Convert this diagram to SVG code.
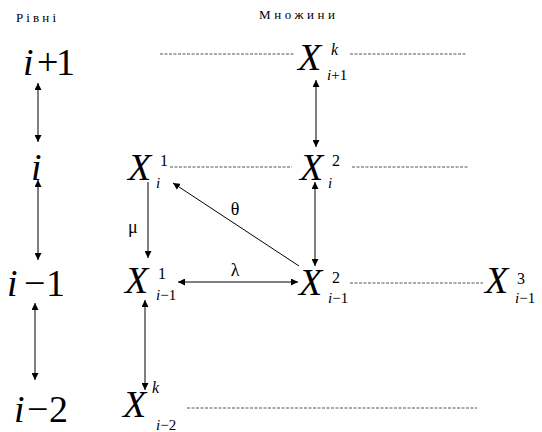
<svg xmlns="http://www.w3.org/2000/svg" width="542" height="432" viewBox="0 0 542 432">
<defs>
<marker id="ah" viewBox="0 0 10 10" refX="10" refY="5" markerWidth="7" markerHeight="7" markerUnits="userSpaceOnUse" orient="auto-start-reverse">
<path d="M0,0 L10,5 L0,10 z" fill="#000"/>
</marker>
</defs>
<rect width="542" height="432" fill="#fff"/>
<g id="headers" font-family="Liberation Serif" font-size="13" fill="#000">
<text x="16" y="22" font-family="Liberation Serif" textLength="40">Рівні</text>
<text x="259" y="19" font-family="Liberation Serif" textLength="76">Множини</text>
</g>
<g id="levels" font-family="Liberation Serif" font-size="38" fill="#000">
<g id="lvl-i1"><text y="75" font-family="Liberation Serif"><tspan font-style="italic" x="23">i</tspan><tspan x="37">+</tspan><tspan x="56">1</tspan></text></g>
<g id="lvl-i"><text x="31" y="180" font-family="Liberation Serif" font-style="italic">i</text></g>
<g id="lvl-im1"><text y="296" font-family="Liberation Serif"><tspan font-style="italic" x="7">i</tspan><tspan x="24">−</tspan><tspan x="46">1</tspan></text></g>
<g id="lvl-im2"><text y="422" font-family="Liberation Serif"><tspan font-style="italic" x="14">i</tspan><tspan x="27">−</tspan><tspan x="49">2</tspan></text></g>
</g>
<g id="dashes" stroke="#555" stroke-width="1" stroke-dasharray="3 1.5" fill="none">
<line x1="160" y1="54" x2="295" y2="54"/>
<line x1="350" y1="54" x2="467" y2="54"/>
<line x1="170" y1="167" x2="292" y2="167"/>
<line x1="352" y1="167" x2="468" y2="167"/>
<line x1="350" y1="283" x2="483" y2="283"/>
<line x1="187" y1="408" x2="477" y2="408"/>
</g>
<g id="nodes" font-family="Liberation Serif" fill="#000">
<g id="X_ip1_k"><text x="298" y="70" font-family="Liberation Serif" font-size="38" font-style="italic">X</text><text x="331" y="55" font-family="Liberation Serif" font-size="16" font-style="italic">k</text><text y="80" font-family="Liberation Serif" font-size="15"><tspan font-style="italic" x="327">i</tspan><tspan>+1</tspan></text></g>
<g id="X_i_1"><text x="128" y="180" font-family="Liberation Serif" font-size="38" font-style="italic">X</text><text x="160" y="166" font-family="Liberation Serif" font-size="16">1</text><text x="156" y="188" font-family="Liberation Serif" font-size="15" font-style="italic">i</text></g>
<g id="X_i_2"><text x="300" y="180" font-family="Liberation Serif" font-size="38" font-style="italic">X</text><text x="332" y="166" font-family="Liberation Serif" font-size="16">2</text><text x="328" y="188" font-family="Liberation Serif" font-size="15" font-style="italic">i</text></g>
<g id="X_im1_1"><text x="125" y="293" font-family="Liberation Serif" font-size="38" font-style="italic">X</text><text x="158" y="279" font-family="Liberation Serif" font-size="16">1</text><text y="300" font-family="Liberation Serif" font-size="15"><tspan font-style="italic" x="156">i</tspan><tspan>−1</tspan></text></g>
<g id="X_im1_2"><text x="299" y="295" font-family="Liberation Serif" font-size="38" font-style="italic">X</text><text x="332" y="283" font-family="Liberation Serif" font-size="16">2</text><text y="303" font-family="Liberation Serif" font-size="15"><tspan font-style="italic" x="328">i</tspan><tspan>−1</tspan></text></g>
<g id="X_im1_3"><text x="485" y="293" font-family="Liberation Serif" font-size="38" font-style="italic">X</text><text x="517" y="284" font-family="Liberation Serif" font-size="16">3</text><text y="303" font-family="Liberation Serif" font-size="15"><tspan font-style="italic" x="515">i</tspan><tspan>−1</tspan></text></g>
<g id="X_im2_k"><text x="123" y="417" font-family="Liberation Serif" font-size="38" font-style="italic">X</text><text x="152" y="393" font-family="Liberation Serif" font-size="16" font-style="italic">k</text><text y="430" font-family="Liberation Serif" font-size="15"><tspan font-style="italic" x="156">i</tspan><tspan>−2</tspan></text></g>
</g>
<g id="connectors" stroke="#000" stroke-width="1" fill="none">
<line x1="38" y1="83" x2="38" y2="142" marker-start="url(#ah)" marker-end="url(#ah)"/>
<line x1="38" y1="180" x2="38" y2="260" marker-start="url(#ah)" marker-end="url(#ah)"/>
<line x1="35" y1="303" x2="35" y2="380" marker-start="url(#ah)" marker-end="url(#ah)"/>
<line x1="316" y1="80" x2="316" y2="147" marker-start="url(#ah)" marker-end="url(#ah)"/>
<line x1="148" y1="182" x2="148" y2="258" marker-end="url(#ah)"/>
<line x1="299" y1="266" x2="173" y2="183" marker-end="url(#ah)"/>
<line x1="315" y1="182" x2="315" y2="266" marker-start="url(#ah)" marker-end="url(#ah)"/>
<line x1="178" y1="282" x2="298" y2="282" marker-start="url(#ah)" marker-end="url(#ah)"/>
<line x1="145" y1="300" x2="145" y2="390" marker-start="url(#ah)" marker-end="url(#ah)"/>
</g>
<g id="connector-labels" font-family="Liberation Serif" font-size="18" fill="#000">
<text x="128" y="233" font-family="Liberation Serif">μ</text>
<text x="235" y="215" font-family="Liberation Serif" text-anchor="middle">θ</text>
<text x="235" y="276" font-family="Liberation Serif" text-anchor="middle">λ</text>
</g>
</svg>
